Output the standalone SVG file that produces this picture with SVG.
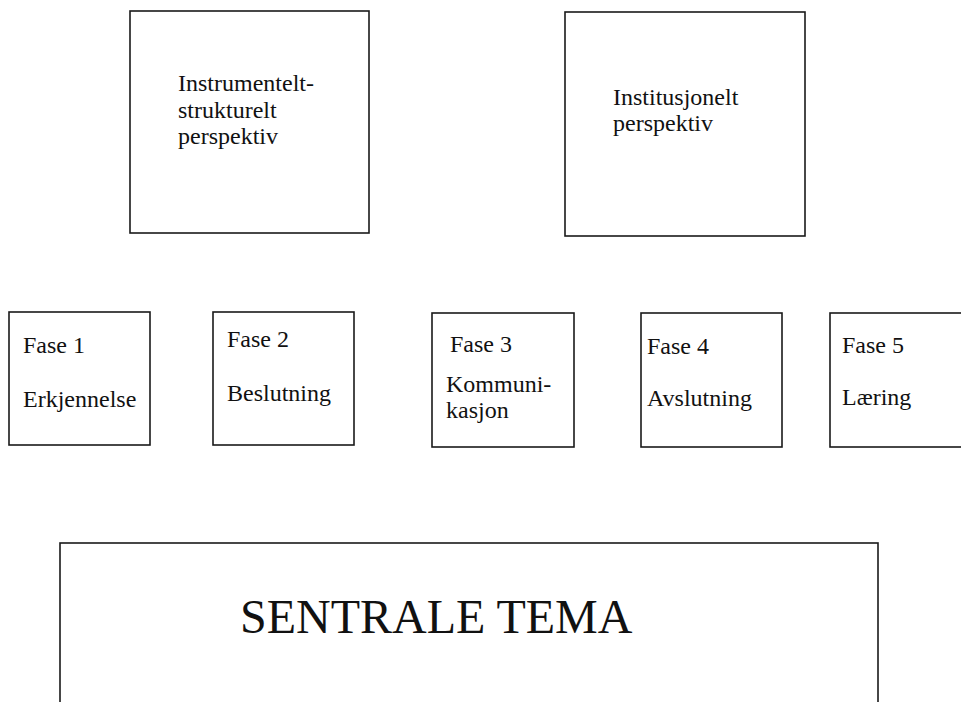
<svg xmlns="http://www.w3.org/2000/svg" width="961" height="702" viewBox="0 0 961 702">
<style>
.box{fill:#fff;stroke:#1a1a1a;stroke-width:1.6}
.t{font-family:"Liberation Serif","Times New Roman",serif;font-size:24px;fill:#111}
.big{font-family:"Liberation Serif","Times New Roman",serif;font-size:48px;fill:#111}
</style>
<rect width="961" height="702" fill="#fff"/>
<g id="instrumentelt">
<rect class="box" x="130" y="11" width="239" height="222"/>
<text class="t" x="178" y="91">Instrumentelt-</text>
<text class="t" x="178" y="118">strukturelt</text>
<text class="t" x="178" y="144">perspektiv</text>
</g>
<g id="institusjonelt">
<rect class="box" x="565" y="12" width="240" height="224"/>
<text class="t" x="613" y="105">Institusjonelt</text>
<text class="t" x="613" y="131">perspektiv</text>
</g>
<g id="fase1">
<rect class="box" x="9" y="312" width="141" height="133"/>
<text class="t" x="23" y="353">Fase 1</text>
<text class="t" x="23" y="407">Erkjennelse</text>
</g>
<g id="fase2">
<rect class="box" x="213" y="312" width="141" height="133"/>
<text class="t" x="227" y="347">Fase 2</text>
<text class="t" x="227" y="401">Beslutning</text>
</g>
<g id="fase3">
<rect class="box" x="432" y="313" width="142" height="134"/>
<text class="t" x="450" y="352">Fase 3</text>
<text class="t" x="446" y="392">Kommuni-</text>
<text class="t" x="446" y="418">kasjon</text>
</g>
<g id="fase4">
<rect class="box" x="641" y="313" width="141" height="134"/>
<text class="t" x="647" y="354">Fase 4</text>
<text class="t" x="647" y="406">Avslutning</text>
</g>
<g id="fase5">
<rect class="box" x="830" y="313" width="141" height="134"/>
<text class="t" x="842" y="353">Fase 5</text>
<text class="t" x="842" y="405">Læring</text>
</g>
<g id="sentrale-tema">
<rect class="box" x="60" y="543" width="818" height="180"/>
<text class="big" x="240" y="633">SENTRALE TEMA</text>
</g>
<g id="connectors"/>
</svg>
